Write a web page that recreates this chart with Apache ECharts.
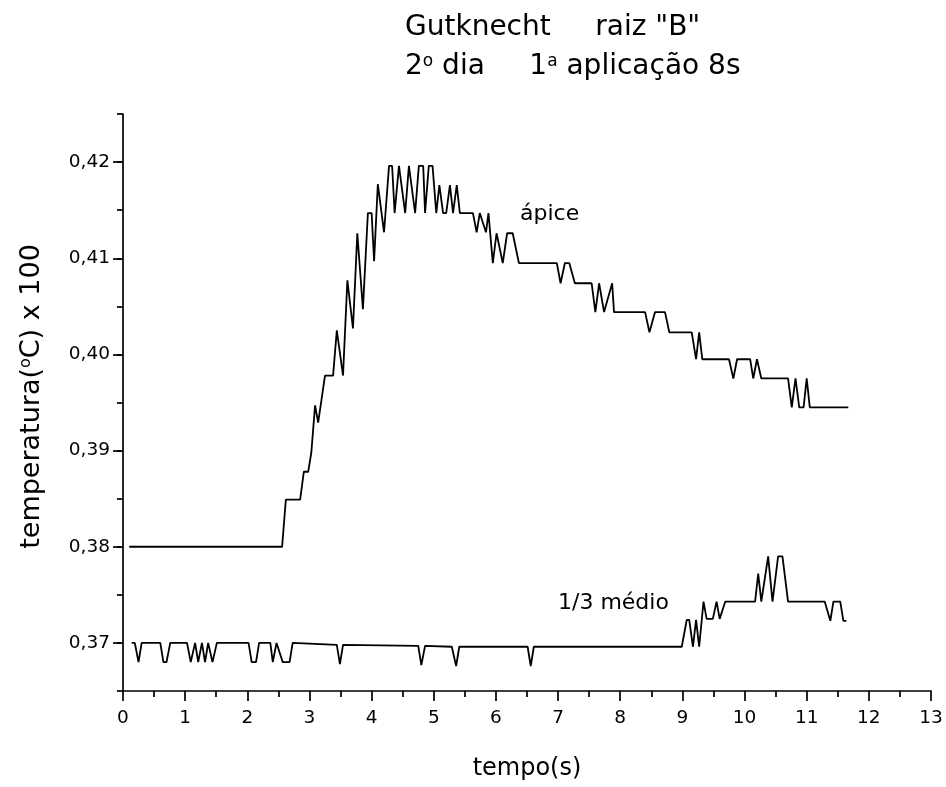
<!DOCTYPE html>
<html><head><meta charset="utf-8">
<script src="https://cdn.jsdelivr.net/npm/echarts@6/dist/echarts.min.js"></script>
<style>html,body{margin:0;padding:0;background:#fff}#c{width:946px;height:787px}</style>
</head><body><div id="c"></div>
<script>
// ---- data ----
const apiceX = [0.10,2.56,2.62,2.85,2.91,2.98,3.03,3.09,3.14,3.25,3.38,3.44,3.54,3.61,3.70,3.77,3.86,3.94,4.00,4.04,4.10,4.20,4.28,4.33,4.37,4.44,4.54,4.60,4.70,4.76,4.83,4.86,4.92,4.98,5.04,5.09,5.15,5.20,5.26,5.31,5.37,5.42,5.63,5.69,5.74,5.84,5.88,5.95,6.01,6.11,6.18,6.27,6.37,6.98,7.04,7.11,7.18,7.27,7.54,7.60,7.66,7.74,7.87,7.90,8.40,8.47,8.56,8.72,8.79,9.15,9.22,9.27,9.32,9.75,9.82,9.88,10.09,10.14,10.20,10.27,10.70,10.76,10.82,10.88,10.95,11.00,11.05,11.67];
const apiceY = [0.3800,0.3800,0.3849,0.3849,0.3878,0.3878,0.3898,0.3947,0.3929,0.3978,0.3978,0.4025,0.3978,0.4077,0.4027,0.4126,0.4047,0.4147,0.4147,0.4097,0.4177,0.4127,0.4196,0.4196,0.4147,0.4196,0.4147,0.4196,0.4147,0.4196,0.4196,0.4147,0.4196,0.4196,0.4147,0.4176,0.4147,0.4147,0.4176,0.4147,0.4176,0.4147,0.4147,0.4127,0.4147,0.4127,0.4147,0.4095,0.4126,0.4095,0.4126,0.4126,0.4095,0.4095,0.4074,0.4095,0.4095,0.4074,0.4074,0.4044,0.4074,0.4044,0.4074,0.4044,0.4044,0.4023,0.4044,0.4044,0.4023,0.4023,0.3995,0.4023,0.3995,0.3995,0.3975,0.3995,0.3995,0.3975,0.3995,0.3975,0.3975,0.3945,0.3975,0.3945,0.3945,0.3975,0.3945,0.3945];
const medioX = [0.14,0.19,0.25,0.30,0.60,0.65,0.70,0.76,1.03,1.09,1.16,1.21,1.27,1.32,1.37,1.44,1.51,2.02,2.07,2.14,2.19,2.37,2.41,2.47,2.57,2.68,2.73,3.44,3.49,3.54,4.75,4.80,4.86,5.29,5.36,5.41,6.51,6.56,6.61,8.99,9.07,9.11,9.17,9.22,9.27,9.34,9.39,9.49,9.55,9.60,9.69,10.17,10.22,10.27,10.38,10.45,10.54,10.61,10.70,11.29,11.38,11.43,11.54,11.59,11.64];
const medioY = [0.3700,0.3700,0.3680,0.3700,0.3700,0.3680,0.3680,0.3700,0.3700,0.3680,0.3700,0.3680,0.3700,0.3680,0.3700,0.3680,0.3700,0.3700,0.3680,0.3680,0.3700,0.3700,0.3680,0.3700,0.3680,0.3680,0.3700,0.3698,0.3678,0.3698,0.3697,0.3677,0.3697,0.3696,0.3676,0.3696,0.3696,0.3676,0.3696,0.3696,0.3724,0.3724,0.3696,0.3724,0.3696,0.3743,0.3725,0.3725,0.3743,0.3725,0.3743,0.3743,0.3772,0.3743,0.3790,0.3743,0.3790,0.3790,0.3743,0.3743,0.3723,0.3743,0.3743,0.3723,0.3723];
const yLabelValues = [0.37,0.38,0.39,0.40,0.41,0.42];
const titleLine1 = 'Gutknecht     raiz "B"';
const titleLine2 = '2{s|o} dia     1{s|a} aplicação 8s';
const seriesNames = ['ápice','1/3 médio'];

const FF = 'DejaVu Sans';
const zip = (xs, ys) => xs.map((x, i) => [x, ys[i]]);
const chart = echarts.init(document.getElementById('c'), null, {renderer: 'canvas'});
const lineStyle = {color: '#000', width: 1.8};
const axisLineStyle = {color: '#000', width: 1.7};
const ta = {align: 'left', verticalAlign: 'middle', textAlign: 'left', textVerticalAlign: 'middle'};

chart.setOption({
  animation: false,
  backgroundColor: '#fff',
  grid: {left: 123, right: 15, top: 114, bottom: 96, containLabel: false},
  xAxis: {
    type: 'value', min: 0, max: 13, interval: 1,
    name: 'tempo(s)', nameLocation: 'middle', nameGap: 66,
    nameTextStyle: {fontFamily: FF, fontSize: 24, color: '#000'},
    axisLine: {show: true, onZero: false, lineStyle: axisLineStyle},
    axisTick: {show: true, length: 10, lineStyle: axisLineStyle},
    minorTick: {show: true, splitNumber: 2, length: 6, lineStyle: axisLineStyle},
    axisLabel: {fontFamily: FF, fontSize: 18.5, color: '#000', margin: 18},
    splitLine: {show: false}, minorSplitLine: {show: false}
  },
  yAxis: [{
    type: 'value', min: 0.365, max: 0.425, interval: 0.005,
    name: 'temperatura({s|o}C) x 100', nameLocation: 'middle', nameRotate: 90, nameGap: 78,
    nameTextStyle: {fontFamily: FF, fontSize: 27, color: '#000', padding: [0, 0, 0, 12],
      rich: {s: {fontFamily: FF, fontSize: 16, color: '#000', verticalAlign: 'top'}}},
    axisLine: {show: true, onZero: false, lineStyle: axisLineStyle},
    axisTick: {show: true, length: 10, customValues: yLabelValues, lineStyle: axisLineStyle},
    axisLabel: {fontFamily: FF, fontSize: 18.5, color: '#000', margin: 13, customValues: yLabelValues,
      formatter: v => v.toFixed(2).replace('.', ',')},
    splitLine: {show: false}
  }, {
    type: 'value', min: 0.365, max: 0.425, interval: 0.005, position: 'left', offset: 0,
    axisLine: {show: false},
    axisTick: {show: true, length: 6, lineStyle: axisLineStyle},
    axisLabel: {show: false},
    splitLine: {show: false}
  }],
  graphic: [
    {type: 'text', x: 405, y: 28, style: Object.assign({text: titleLine1, fontFamily: FF, fontSize: 28, fill: '#000'}, ta)},
    {type: 'text', x: 405, y: 67, style: Object.assign({text: titleLine2, fontFamily: FF, fontSize: 28, fill: '#000',
      rich: {s: {fontFamily: FF, fontSize: 17, fill: '#000', verticalAlign: 'top'}}}, ta)},
    {type: 'text', x: 520, y: 214, style: Object.assign({text: seriesNames[0], fontFamily: FF, fontSize: 22, fill: '#000'}, ta)},
    {type: 'text', x: 558, y: 603, style: Object.assign({text: seriesNames[1], fontFamily: FF, fontSize: 22, fill: '#000'}, ta)}
  ],
  series: [
    {name: seriesNames[0], type: 'line', data: zip(apiceX, apiceY), showSymbol: false, symbol: 'none', lineStyle, yAxisIndex: 0},
    {name: seriesNames[1], type: 'line', data: zip(medioX, medioY), showSymbol: false, symbol: 'none', lineStyle, yAxisIndex: 0}
  ]
});
</script></body></html>
